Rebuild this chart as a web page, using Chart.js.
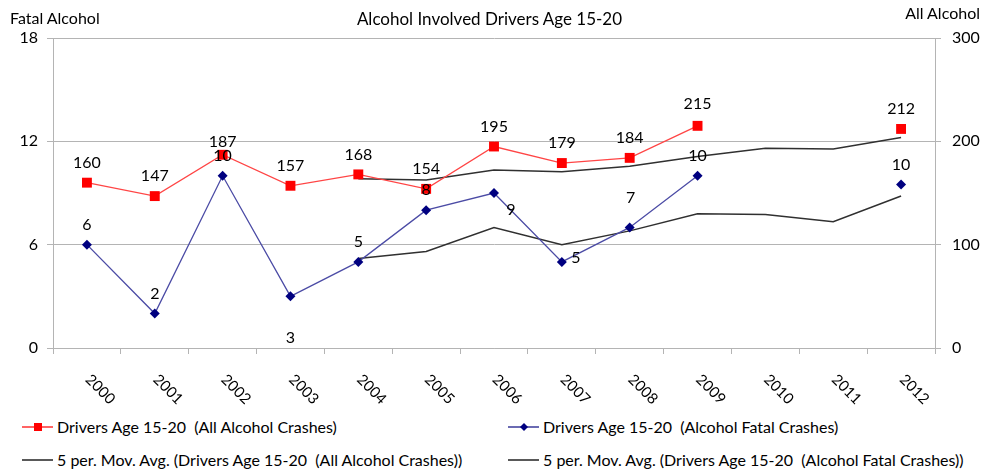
<!DOCTYPE html>
<html>
<head>
<meta charset="utf-8">
<script src="https://cdn.jsdelivr.net/npm/chart.js@4.4.1/dist/chart.umd.min.js"></script>
<style>
  html, body { margin: 0; padding: 0; background: #fff; }
  body { width: 992px; height: 472px; position: relative; overflow: hidden; font-family: Lato, 'Liberation Sans', sans-serif; color: #000; }
  #wrap { position: absolute; left: 0; top: 0; width: 992px; height: 410px; }
  .txt { position: absolute; font-size: 16px; line-height: 18px; white-space: nowrap; }
  #title { left: 0; width: 979px; top: 10px; text-align: center; font-size: 17px; }
  #leftTitle { left: 10px; top: 9px; }
  #rightTitle { right: 12px; top: 4px; }
  .leg { position: absolute; height: 18px; line-height: 18px; font-size: 16px; white-space: nowrap; }
  .leg svg { position: absolute; left: 0; top: 3px; }
  .leg span { position: absolute; left: 35px; top: 0; }
</style>
</head>
<body>
<div id="wrap"><canvas id="chart" width="992" height="410"></canvas></div>
<div class="txt" id="title">Alcohol Involved Drivers Age 15-20</div>
<div class="txt" id="leftTitle">Fatal Alcohol</div>
<div class="txt" id="rightTitle">All Alcohol</div>

<div class="leg" style="left:22px; top:418px;">
  <svg width="32" height="12"><line x1="0" y1="6" x2="31" y2="6" stroke="#ff3030" stroke-width="1.5"/><rect x="12" y="2" width="8" height="8" fill="#ff0000"/></svg>
  <span>Drivers Age 15-20&nbsp; (All Alcohol Crashes)</span>
</div>
<div class="leg" style="left:508px; top:418px;">
  <svg width="32" height="12"><line x1="0" y1="6" x2="31" y2="6" stroke="#3a3a9a" stroke-width="1.5"/><polygon points="16,2 20,6 16,10 12,6" fill="#000080"/></svg>
  <span>Drivers Age 15-20&nbsp; (Alcohol Fatal Crashes)</span>
</div>
<div class="leg" style="left:22px; top:451px;">
  <svg width="32" height="12"><line x1="0" y1="6" x2="31" y2="6" stroke="#222" stroke-width="1.5"/></svg>
  <span>5 per. Mov. Avg. (Drivers Age 15-20&nbsp; (All Alcohol Crashes))</span>
</div>
<div class="leg" style="left:508px; top:451px;">
  <svg width="32" height="12"><line x1="0" y1="6" x2="31" y2="6" stroke="#222" stroke-width="1.5"/></svg>
  <span>5 per. Mov. Avg. (Drivers Age 15-20&nbsp; (Alcohol Fatal Crashes))</span>
</div>

<script>
// Data
const years = ['2000', '2001', '2002', '2003', '2004', '2005', '2006', '2007', '2008', '2009', '2010', '2011', '2012'];
const allCrashes = [160, 147, 187, 157, 168, 154, 195, 179, 184, 215, null, null, 212];
const fatalCrashes = [6, 2, 10, 3, 5, 8, 9, 5, 7, 10, null, null, 9.5];
const allCrashesAvg = [null, null, null, null, 163.8, 162.6, 172.2, 170.6, 176, 185.4, 193.3, 192.7, 203.7];
const fatalCrashesAvg = [null, null, null, null, 5.2, 5.6, 7, 6, 6.8, 7.8, 7.75, 7.33, 8.83];
const fatalTicks = [0, 6, 12, 18];
const allTicks = [0, 100, 200, 300];

const GRID = '#b4b4b4';
const FONT = 'Lato, "Liberation Sans", sans-serif';

// value labels next to the points, with per-point nudges like the original
const pointLabels = {
  id: 'pointLabels',
  afterDatasetsDraw(chart, args, opts) {
    const { ctx } = chart;
    ctx.save();
    ctx.font = `16px ${FONT}`;
    ctx.fillStyle = '#000';
    ctx.textAlign = 'center';
    ctx.textBaseline = 'middle';
    chart.data.datasets.forEach((ds, di) => {
      if (!ds.valueLabels) return;
      const nudge = opts.nudges[di] || {};
      chart.getDatasetMeta(di).data.forEach((pt, i) => {
        const v = ds.data[i];
        if (v == null) return;
        const off = nudge[i] || opts.base;
        ctx.fillText(String(Math.round(v)), pt.x + off[0], pt.y + off[1]);
      });
    });
    ctx.restore();
  }
};

// year labels slanted downwards, as in the original
const yearLabels = {
  id: 'yearLabels',
  afterDraw(chart) {
    const { ctx } = chart;
    const x = chart.scales.x;
    ctx.save();
    ctx.font = `15px ${FONT}`;
    ctx.fillStyle = '#000';
    ctx.textAlign = 'left';
    ctx.textBaseline = 'middle';
    years.forEach((yr, i) => {
      ctx.save();
      ctx.translate(x.getPixelForValue(i) + 1, x.top + 29);
      ctx.rotate(Math.PI / 4);
      ctx.fillText(yr, 0, 0);
      ctx.restore();
    });
    ctx.restore();
  }
};

new Chart(document.getElementById('chart'), {
  type: 'line',
  data: {
    labels: years,
    datasets: [
      {
        label: 'Drivers Age 15-20  (All Alcohol Crashes)',
        data: allCrashes,
        yAxisID: 'y1',
        borderColor: '#ff4545',
        borderWidth: 1.3,
        pointStyle: 'rect',
        pointRadius: 7,
        pointBackgroundColor: '#ff0000',
        pointBorderColor: '#ff0000',
        pointBorderWidth: 0,
        spanGaps: false,
        valueLabels: true,
        order: 2
      },
      {
        label: 'Drivers Age 15-20  (Alcohol Fatal Crashes)',
        data: fatalCrashes,
        yAxisID: 'y',
        borderColor: '#4b4ba5',
        borderWidth: 1.3,
        pointStyle: 'rectRot',
        pointRadius: 5,
        pointBackgroundColor: '#000080',
        pointBorderColor: '#000080',
        pointBorderWidth: 0,
        spanGaps: false,
        valueLabels: true,
        order: 1
      },
      {
        label: '5 per. Mov. Avg. (Drivers Age 15-20  (All Alcohol Crashes))',
        data: allCrashesAvg,
        yAxisID: 'y1',
        borderColor: '#303030',
        borderWidth: 1.5,
        pointRadius: 0,
        order: 3
      },
      {
        label: '5 per. Mov. Avg. (Drivers Age 15-20  (Alcohol Fatal Crashes))',
        data: fatalCrashesAvg,
        yAxisID: 'y',
        borderColor: '#303030',
        borderWidth: 1.5,
        pointRadius: 0,
        order: 4
      }
    ]
  },
  options: {
    responsive: false,
    animation: false,
    devicePixelRatio: 1,
    layout: { padding: { top: 38, left: 0, right: 0, bottom: 0 } },
    plugins: {
      legend: { display: false },
      title: { display: false },
      tooltip: { enabled: false },
      pointLabels: {
        base: [0, -20],
        nudges: {
          0: { 2: [0, -13], 9: [0, -22], 11: [0, -17] },
          1: { 3: [0, 42], 6: [17, 17], 7: [14, -4], 8: [1, -30] }
        }
      }
    },
    scales: {
      x: {
        offset: true,
        grid: { display: true, offset: true, drawOnChartArea: false, drawTicks: true, tickLength: 6, color: GRID },
        border: { display: true, color: GRID },
        ticks: { display: false },
        afterFit: s => { s.height = 62; }
      },
      y: {
        position: 'left',
        min: 0,
        max: 18,
        afterBuildTicks: s => { s.ticks = fatalTicks.map(v => ({ value: v })); },
        grid: { color: GRID, tickLength: 6 },
        border: { display: true, color: GRID },
        ticks: { color: '#000', padding: 9, font: { family: FONT, size: 16 } },
        afterFit: s => { s.width = 53; }
      },
      y1: {
        position: 'right',
        min: 0,
        max: 300,
        afterBuildTicks: s => { s.ticks = allTicks.map(v => ({ value: v })); },
        grid: { drawOnChartArea: false, color: GRID, tickLength: 6 },
        border: { display: true, color: GRID },
        ticks: { color: '#000', padding: 11, font: { family: FONT, size: 16 } },
        afterFit: s => { s.width = 57; }
      }
    }
  },
  plugins: [pointLabels, yearLabels]
});
</script>
</body>
</html>
